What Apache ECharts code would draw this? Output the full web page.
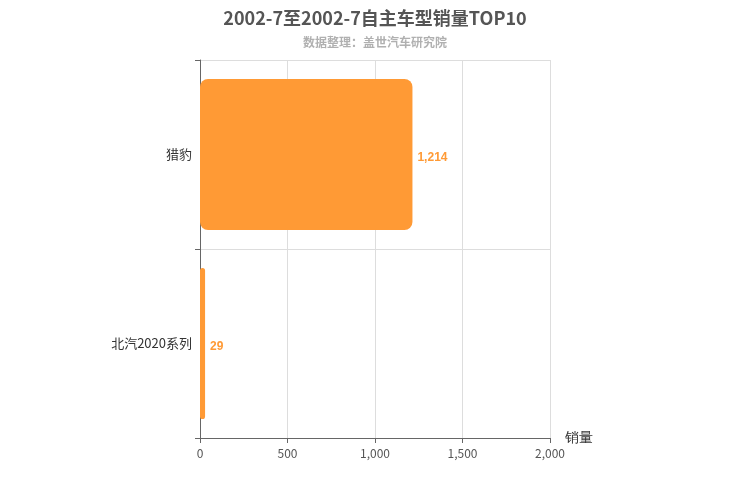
<!DOCTYPE html>
<html>
<head>
<meta charset="utf-8">
<script src="https://cdn.jsdelivr.net/npm/echarts@6/dist/echarts.min.js"></script>
<style>
html, body { margin: 0; padding: 0; background: #fff; }
#main { width: 750px; height: 500px; }
</style>
</head>
<body>
<div id="main"></div>
<script>
// 车型（自下而上）
var models = ['北汽2020系列', '猎豹'];
var sales = [29, 1214];
var xTicks = [0, 500, 1000, 1500, 2000];

var chart = echarts.init(document.getElementById('main'));

var option = {
    backgroundColor: '#fff',
    animation: false,
    title: {
        text: '2002-7至2002-7自主车型销量TOP10',
        subtext: '数据整理：盖世汽车研究院',
        left: 'center',
        top: 4,
        itemGap: 9,
        textStyle: {
            color: '#555',
            fontSize: 18,
            fontWeight: 'bold',
            fontFamily: 'Noto Sans CJK SC'
        },
        subtextStyle: {
            color: '#b0b0b0',
            fontSize: 12,
            fontWeight: 'bold',
            fontFamily: 'Noto Sans CJK SC'
        }
    },
    grid: { left: 200, right: 200, top: 60, bottom: 62, containLabel: false },
    xAxis: {
        type: 'value',
        min: xTicks[0],
        max: xTicks[xTicks.length - 1],
        interval: 500,
        name: '销量',
        nameGap: 15,
        nameTextStyle: { color: '#333', fontSize: 14, verticalAlign: 'top', padding: [-7, 0, 0, 0] },
        axisLine: { show: true, lineStyle: { color: '#666' } },
        axisTick: { show: true, lineStyle: { color: '#666' } },
        axisLabel: { color: '#555', fontSize: 12, fontFamily: 'Noto Sans CJK SC', margin: 9 },
        splitLine: { show: true, lineStyle: { color: '#ddd' } }
    },
    yAxis: {
        type: 'category',
        data: models,
        axisLine: { show: true, lineStyle: { color: '#666' } },
        axisTick: { show: true, lineStyle: { color: '#666' } },
        axisLabel: { color: '#333', fontSize: 13, fontFamily: 'Noto Sans CJK SC', padding: [4, 0, 0, 0] },
        splitLine: { show: true, lineStyle: { color: '#ddd' } }
    },
    series: [{
        type: 'bar',
        data: sales,
        barWidth: '80%',
        itemStyle: { color: '#ff9a35', borderRadius: 8 },
        label: {
            show: true,
            position: 'right',
            offset: [0, 3],
            color: '#ff9a35',
            fontWeight: 'bold',
            fontSize: 12,
            formatter: function (p) { return p.value.toLocaleString('en-US'); }
        }
    }]
};

chart.setOption(option);
</script>
</body>
</html>
